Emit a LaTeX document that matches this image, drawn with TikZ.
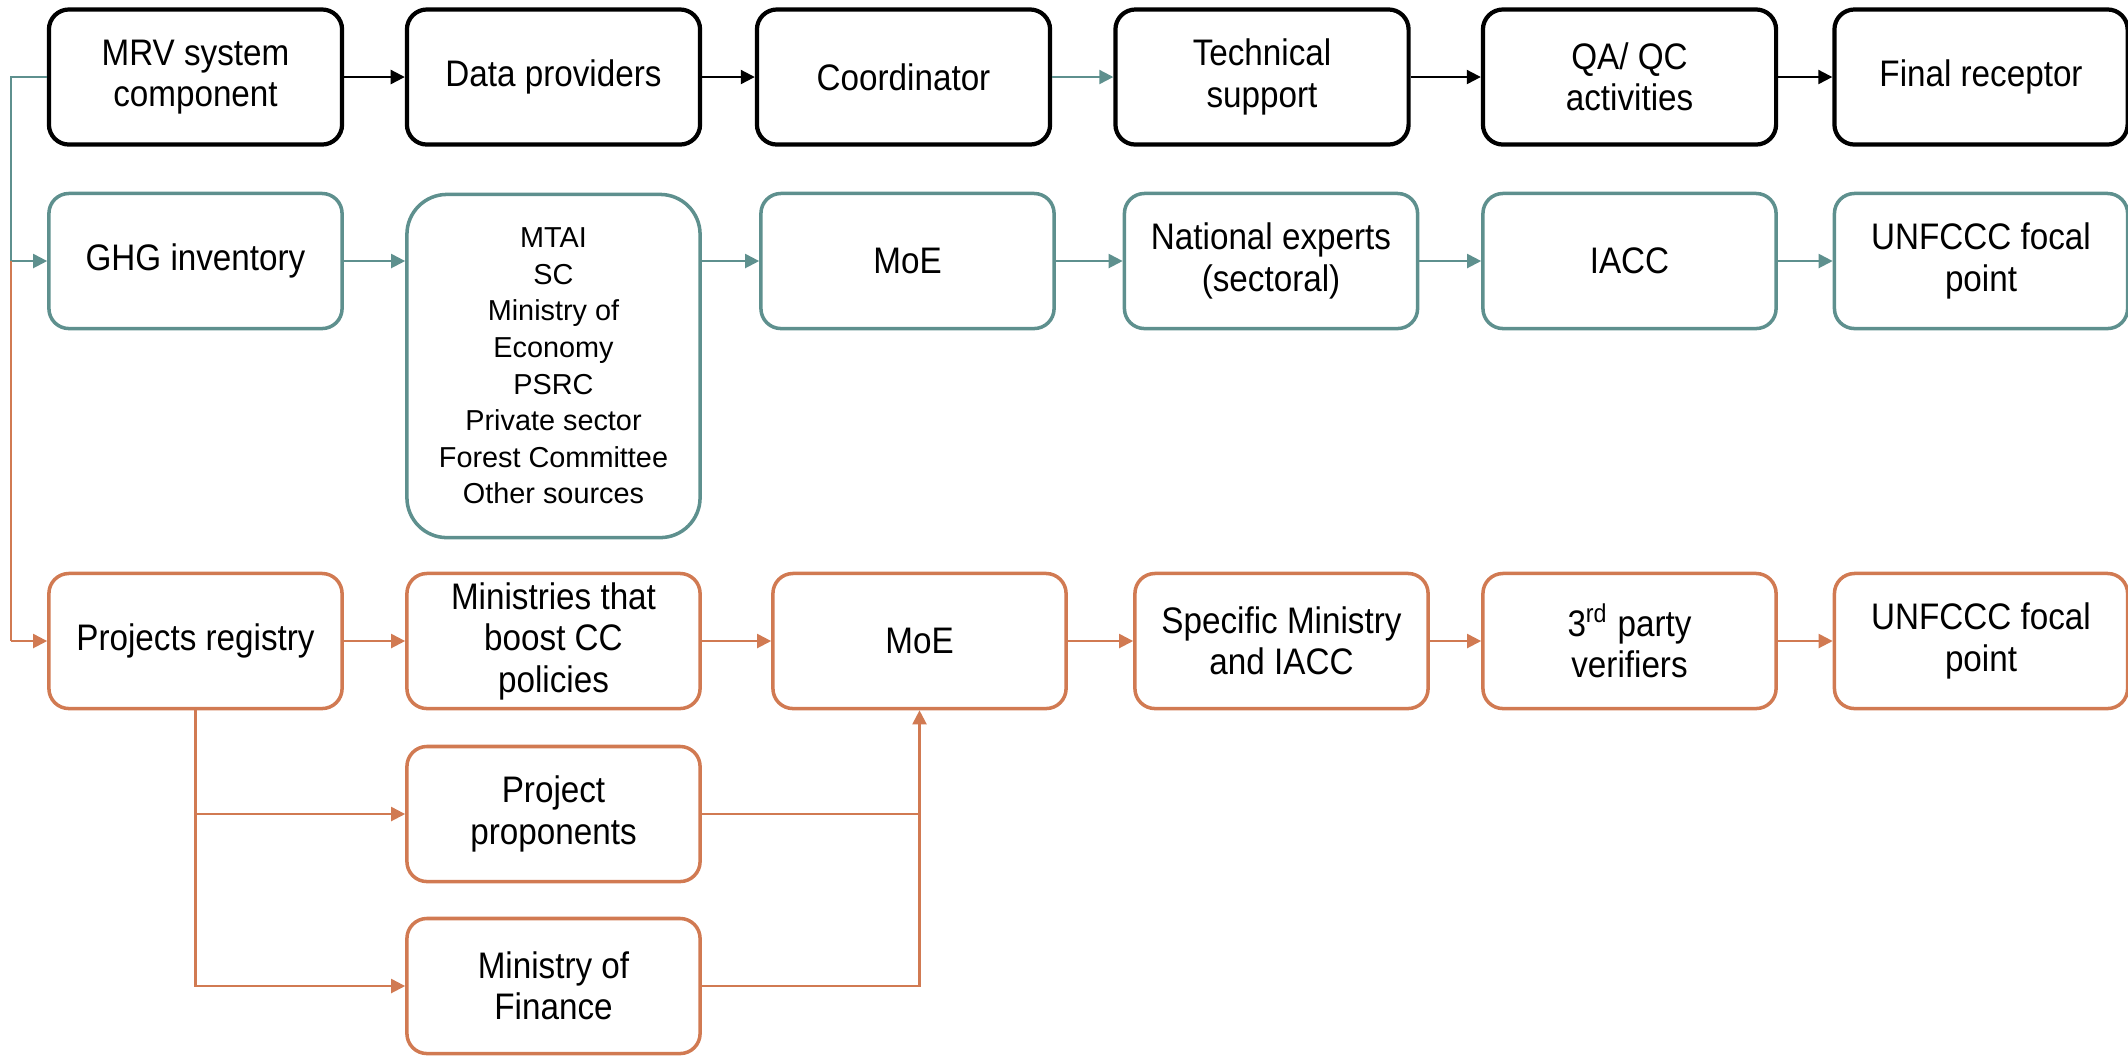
\documentclass[tikz,border=0pt]{standalone}
\usepackage{fontspec}
\setmainfont[FakeStretch=0.9]{Liberation Sans}
\newfontfamily\listfont{Liberation Sans}
\usetikzlibrary{arrows.meta}
\definecolor{tealc}{RGB}{94,144,142}
\definecolor{orangec}{RGB}{209,122,82}
\tikzset{
  box/.style={rectangle, rounded corners=0.2cm, minimum width=2.93cm, minimum height=1.35cm,
    inner sep=0pt, align=center, font=\fontsize{10.5pt}{11.8pt}\selectfont, line width=1pt},
  blackbox/.style={box, draw=black, line width=1.2pt},
  tealbox/.style={box, draw=tealc},
  orangebox/.style={box, draw=orangec},
  conn/.style={line width=0.6pt, -{Triangle[length=4pt,width=4pt]}},
  bconn/.style={conn, draw=black},
  tconn/.style={conn, draw=tealc},
  oconn/.style={conn, draw=orangec},
  oline/.style={line width=0.6pt, draw=orangec},
  tline/.style={line width=0.6pt, draw=tealc},
}
\begin{document}
\begin{tikzpicture}[x=0.01cm, y=-0.01cm]
\useasboundingbox (0,0) rectangle (2128,1056);
% top row
\node[blackbox] (mrv) at (195.5,77) {MRV system\\component};
\node[blackbox] (dp) at (553.5,77) {Data providers};
\node[blackbox] (coord) at (903.5,77) {Coordinator};
\node[blackbox] (tech) at (1262,77) {Technical\\support};
\node[blackbox] (qa) at (1629.5,77) {QA/ QC\\activities};
\node[blackbox] (final) at (1981,77) {Final receptor};
% second row
\node[tealbox] (ghg) at (195.5,261) {GHG inventory};
\node[tealbox, minimum height=3.43cm, rounded corners=0.4cm,
      font=\listfont\fontsize{8.2pt}{10.4pt}\selectfont] (src) at (553.5,366)
  {MTAI\\SC\\Ministry of\\Economy\\PSRC\\Private sector\\Forest Committee\\Other sources};
\node[tealbox] (moe1) at (907.5,261) {MoE};
\node[tealbox] (nat) at (1271,261) {National experts\\(sectoral)};
\node[tealbox] (iacc) at (1629.5,261) {IACC};
\node[tealbox] (unf1) at (1981,261) {UNFCCC focal\\point};
% third row
\node[orangebox] (pr) at (195.5,641) {Projects registry};
\node[orangebox] (min) at (553.5,641) {Ministries that\\boost CC\\policies};
\node[orangebox] (moe2) at (919.5,641) {MoE};
\node[orangebox] (spec) at (1281.5,641) {Specific Ministry\\and IACC};
\node[orangebox] (ver) at (1629.5,641) {3\textsuperscript{rd} party\\verifiers};
\node[orangebox] (unf2) at (1981,641) {UNFCCC focal\\point};
% lower nodes
\node[orangebox] (pp) at (553.5,814) {Project\\proponents};
\node[orangebox] (mof) at (553.5,986) {Ministry of\\Finance};
% top connectors
\draw[bconn] (mrv) -- (dp);
\draw[bconn] (dp) -- (coord);
\draw[tconn] (coord) -- (tech);
\draw[bconn] (tech) -- (qa);
\draw[bconn] (qa) -- (final);
% teal row connectors
\draw[tconn] (ghg.east) -- (ghg.east -| src.west);
\draw[tconn] (moe1.west -| src.east) -- (moe1.west);
\draw[tconn] (moe1) -- (nat);
\draw[tconn] (nat) -- (iacc);
\draw[tconn] (iacc) -- (unf1);
% orange row connectors
\draw[oconn] (pr) -- (min);
\draw[oconn] (min) -- (moe2);
\draw[oconn] (moe2) -- (spec);
\draw[oconn] (spec) -- (ver);
\draw[oconn] (ver) -- (unf2);
% left trunk
\coordinate (ltop) at (11,77);
\coordinate (lmid) at (11,261);
\coordinate (lbot) at (11,641);
\draw[tline] (mrv.west) -- (ltop) -- (lmid);
\draw[tconn] (lmid) -- (ghg.west);
\draw[oline] (lmid) -- (lbot);
\draw[oconn] (lbot) -- (pr.west);
% branches
\draw[oconn] (pr.south) |- (pp.west);
\draw[oconn] (pr.south) |- (mof.west);
\draw[oline] (pp.east) -- (pp.east -| moe2.south);
\draw[oconn] (mof.east) -| (moe2.south);
\end{tikzpicture}
\end{document}
